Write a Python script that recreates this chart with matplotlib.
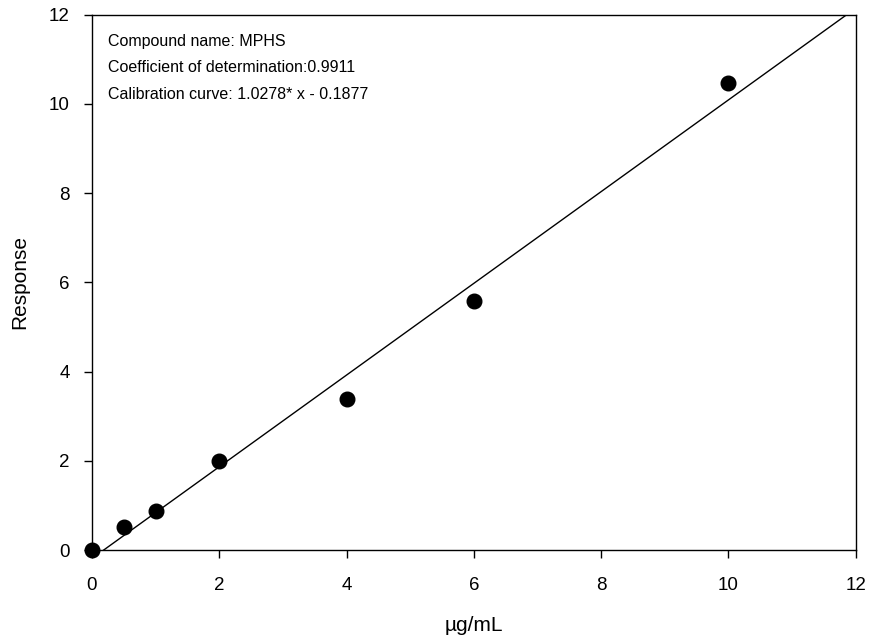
import numpy as np
import matplotlib
matplotlib.use("Agg")
import matplotlib.pyplot as plt

plt.rcParams['font.family'] = ['Liberation Sans', 'DejaVu Sans']

conc = [0, 0.5, 1, 2, 4, 6, 10]
response = [0.0, 0.52, 0.88, 2.0, 3.38, 5.58, 10.48]
slope = 1.0278
intercept = -0.1877

fig = plt.figure(figsize=(8.75, 6.39), dpi=100)
ax = fig.add_axes([0.105, 0.139, 0.873, 0.838])

xfit = np.array([0, 12])
ax.plot(xfit, slope * xfit + intercept, color="black", lw=1.0)
ax.plot(conc, response, "o", color="black", ms=10.5, clip_on=False, zorder=3)

ax.set_xlim(0, 12)
ax.set_ylim(0, 12)
ax.set_xticks(range(0, 13, 2))
ax.set_yticks(range(0, 13, 2))
ax.tick_params(direction="out", length=6, width=1, labelsize=13.5, pad=10)
ax.tick_params(axis="x", pad=13)
for s in ax.spines.values():
    s.set_linewidth(1.0)

ax.set_xlabel("µg/mL", fontsize=15, labelpad=16)
ax.set_ylabel("Response", fontsize=15, labelpad=14)

ax.text(0.021, 0.964, "Compound name: MPHS\nCoefficient of determination:0.9911\nCalibration curve: 1.0278* x - 0.1877",
        transform=ax.transAxes, fontsize=11.5, va="top", ha="left", linespacing=1.95)

plt.savefig("out.png", dpi=100)
